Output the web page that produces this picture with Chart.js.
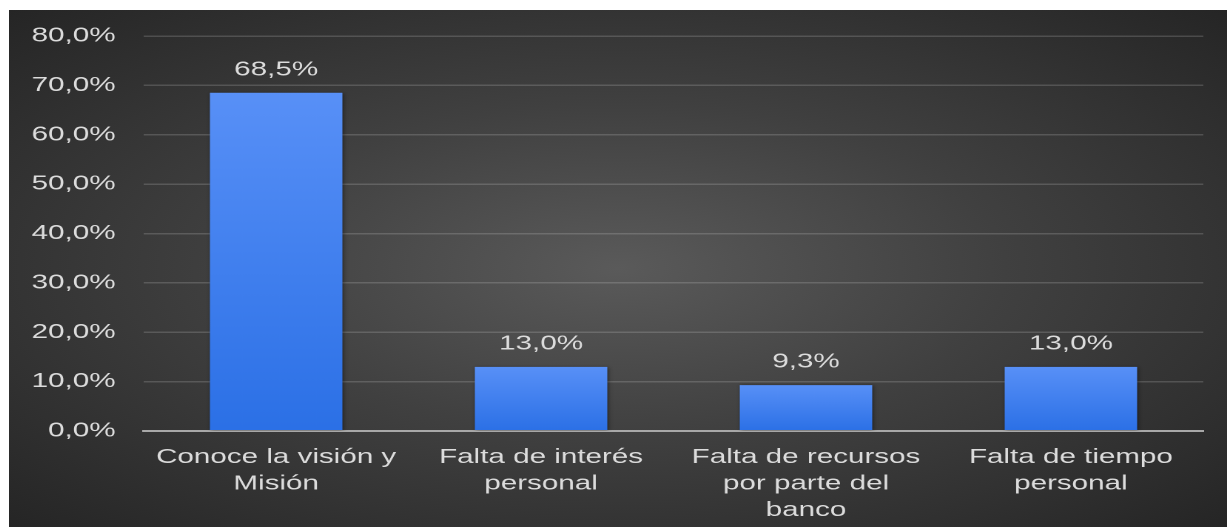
<!DOCTYPE html>
<html>
<head>
<meta charset="utf-8">
<script src="https://cdn.jsdelivr.net/npm/chart.js@4/dist/chart.umd.min.js"></script>
<style>
  body { margin: 0; background: #fff; }
  #wrap {
    position: absolute; left: 9px; top: 10px; width: 1218px; height: 517px; overflow: hidden;
    background: radial-gradient(ellipse at 50% 50%, #5a5a5a 0%, #404040 45%, #252525 100%);
  }
  /* chart drawn narrow and stretched out to the wide frame */
  #inner { width: 823px; height: 517px; transform: scaleX(1.48); transform-origin: 0 0; }
</style>
</head>
<body>
<div id="wrap"><div id="inner"><canvas id="barChart" width="823" height="517"></canvas></div></div>
<script>
const categories = [
    ['Conoce la visión y', 'Misión'],
    ['Falta de interés', 'personal'],
    ['Falta de recursos', 'por parte del', 'banco'],
    ['Falta de tiempo', 'personal']
];
const percentages = [68.5, 13.0, 9.3, 13.0];
const yTicks = [0, 10, 20, 30, 40, 50, 60, 70, 80];

const textColor = '#dcdcdc';
const fontFamily = '"Liberation Sans", Arial, sans-serif';

function fmt(v) {
    return v.toFixed(1).replace('.', ',') + '%';
}

function barGradient(c) {
    const y = c.chart.scales.y;
    if (!y || c.raw == null) return '#3f80f0';
    const top = y.getPixelForValue(c.raw);
    const base = y.getPixelForValue(0);
    if (!isFinite(top) || !isFinite(base) || top === base) return '#3f80f0';
    const g = c.chart.ctx.createLinearGradient(0, top, 0, base);
    g.addColorStop(0, '#5890f7');
    g.addColorStop(1, '#2b70e6');
    return g;
}

// value labels above each bar
const valueLabels = {
    id: 'valueLabels',
    afterDatasetsDraw(chart) {
        const ctx = chart.ctx;
        const meta = chart.getDatasetMeta(0);
        ctx.save();
        ctx.fillStyle = textColor;
        ctx.font = '20px ' + fontFamily;
        ctx.textAlign = 'center';
        ctx.textBaseline = 'middle';
        meta.data.forEach((bar, i) => {
            ctx.fillText(fmt(percentages[i]), bar.x, bar.y - 23);
        });
        ctx.restore();
    }
};

// soft shadow under the bars
const barShadow = {
    id: 'barShadow',
    beforeDatasetsDraw(chart) {
        const ctx = chart.ctx;
        ctx.save();
        ctx.shadowColor = 'rgba(0,0,0,0.45)';
        ctx.shadowBlur = 6;
        ctx.shadowOffsetX = 1;
        ctx.shadowOffsetY = 1;
    },
    afterDatasetsDraw(chart) {
        chart.ctx.restore();
    }
};

const ctx = document.getElementById('barChart').getContext('2d');
new Chart(ctx, {
    type: 'bar',
    data: {
        labels: categories,
        datasets: [{
            data: percentages,
            backgroundColor: barGradient,
            borderWidth: 0,
            barPercentage: 0.5,
            categoryPercentage: 1
        }]
    },
    options: {
        responsive: false,
        animation: false,
        devicePixelRatio: 2,
        layout: { padding: { top: 26, right: 16, left: 0, bottom: 0 } },
        plugins: {
            legend: { display: false },
            tooltip: { enabled: false }
        },
        scales: {
            x: {
                afterFit: s => { s.height = 96; },
                grid: { display: false },
                border: { color: '#a8a8a8', width: 2 },
                ticks: {
                    color: textColor,
                    font: { family: fontFamily, size: 20, lineHeight: 1.33 },
                    maxRotation: 0,
                    autoSkip: false,
                    padding: 5
                }
            },
            y: {
                min: 0,
                max: 80,
                afterFit: s => {
                    s.width = 91;
                    // keep the tick padding from pushing the plot down
                    s.paddingTop = 0;
                    s.paddingBottom = 0;
                },
                afterBuildTicks: s => { s.ticks = yTicks.map(v => ({ value: v })); },
                grid: {
                    color: c => c.tick.value === 0 ? '#a8a8a8' : 'rgba(255,255,255,0.16)',
                    lineWidth: c => c.tick.value === 0 ? 2 : 1.5,
                    drawTicks: false
                },
                border: { display: false },
                ticks: {
                    color: textColor,
                    font: { family: fontFamily, size: 20 },
                    padding: 19,
                    callback: v => fmt(v)
                }
            }
        }
    },
    plugins: [barShadow, valueLabels]
});
</script>
</body>
</html>
